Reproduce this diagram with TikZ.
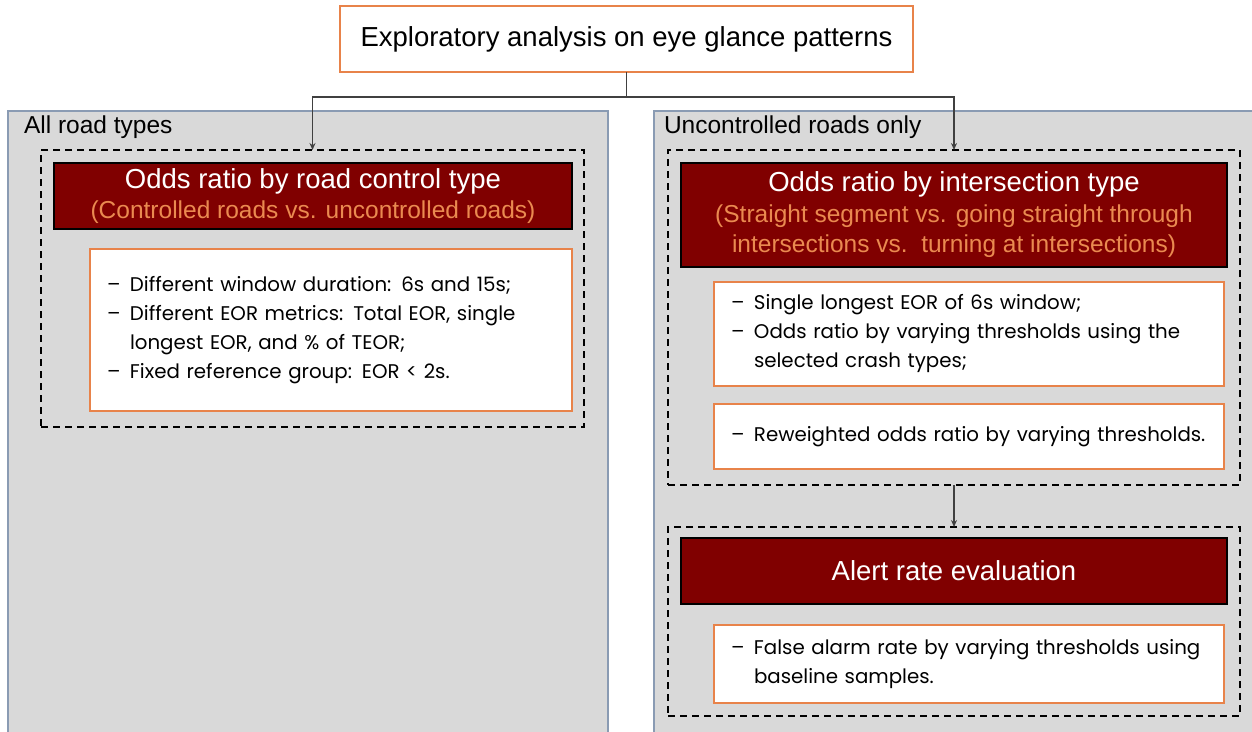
\documentclass[tikz,border=0pt]{standalone}
\usepackage{fontspec}
\setmainfont{Liberation Sans}
\newfontfamily\listfont{Poppins}
\usetikzlibrary{arrows.meta,positioning}
\definecolor{darkred}{HTML}{800000}
\definecolor{boxorange}{HTML}{E8834A}
\definecolor{subtorange}{HTML}{EA8A50}
\definecolor{panelgray}{HTML}{D9D9D9}
\definecolor{panelline}{HTML}{8A9BB3}
\definecolor{linkgray}{HTML}{404040}
\newcommand{\itm}[1]{\makebox[23pt][l]{\textendash}#1}
\newcommand{\cont}[1]{\hspace*{23pt}#1}
\newcommand{\subt}[1]{{\color{subtorange}\fontsize{24.5}{30.5}\selectfont #1}}

\begin{document}
\begin{tikzpicture}[
  x=1pt, y=-1pt, >={Stealth[length=7pt,width=6pt]},
  every node/.style={outer sep=0pt},
  panel/.style={draw=panelline,line width=1.5pt,fill=panelgray,anchor=north west,inner sep=0pt},
  group/.style={draw,line width=1.3pt,dash pattern=on 7pt off 5pt,anchor=north west,inner sep=0pt},
  head/.style={draw=black,line width=1.5pt,fill=darkred,text=white,anchor=north west,
    align=center,inner sep=0pt,font=\fontsize{27.5}{30.5}\selectfont},
  detail/.style={draw=boxorange,line width=2pt,fill=white,anchor=north west,align=left,
    inner xsep=17pt,inner ysep=0pt,font=\listfont\fontsize{19.8}{29}\selectfont},
  tag/.style={anchor=west,inner sep=0pt,font=\fontsize{24.5}{28}\selectfont},
  link/.style={draw=linkgray,line width=1.5pt}
]
\useasboundingbox (0,0) rectangle (1252,731);

% panels
\node[panel,minimum width=600pt,minimum height=640pt] (lpanel) at (8,111) {};
\node[panel,minimum width=620pt,minimum height=640pt] (rpanel) at (654,111) {};
\node[tag] (ltag) at (24,127) {All road types};
\node[tag] (rtag) at (664,127) {Uncontrolled roads only};

% top
\node[draw=boxorange,line width=2pt,fill=white,anchor=north west,minimum width=573pt,
  minimum height=66pt,font=\fontsize{27.5}{30}\selectfont] (top) at (340,6)
  {Exploratory analysis on eye glance patterns};

% left side
\node[group,minimum width=543pt,minimum height=277pt] (lgrp) at (41,150) {};
\node[head,minimum width=518pt,minimum height=66pt] (lhead) at (54,163)
  {Odds ratio by road control type\\\subt{(Controlled roads vs. uncontrolled roads)}};
\node[detail,text width=448pt,minimum height=162pt] (lbul) at (90,249)
  {\itm{Different window duration: 6s and 15s;}\\
   \itm{Different EOR metrics: Total EOR, single}\\
   \cont{longest EOR, and \% of TEOR;}\\
   \itm{Fixed reference group: EOR < 2s.}};

% right side
\node[group,minimum width=572pt,minimum height=335pt] (rgrp) at (668,150) {};
\node[head,minimum width=546pt,minimum height=104pt] (rhead) at (681,163)
  {Odds ratio by intersection type\\
   \subt{(Straight segment vs. going straight through}\\
   \subt{intersections vs.\ \ turning at intersections)}};
\node[detail,text width=476pt,minimum height=104pt] (rbul) at (714,282)
  {\itm{Single longest EOR of 6s window;}\\
   \itm{Odds ratio by varying thresholds using the}\\
   \cont{selected crash types;}};
\node[detail,text width=476pt,minimum height=65pt] (rbulw) at (714,404)
  {\itm{Reweighted odds ratio by varying thresholds.}};

\node[group,minimum width=572pt,minimum height=189pt] (agrp) at (668,527) {};
\node[head,minimum width=546pt,minimum height=66pt] (ahead) at (681,538)
  {Alert rate evaluation};
\node[detail,text width=476pt,minimum height=78pt] (abul) at (714,625)
  {\itm{False alarm rate by varying thresholds using}\\
   \cont{baseline samples.}};

% connectors
\draw[link] (top.south) -- ++(0,25) coordinate (split);
\draw[link,->] (split) -| (lgrp.north);
\draw[link,->] (split) -| (rgrp.north);
\draw[link,->] (rgrp.south) -- (agrp.north);
\end{tikzpicture}
\end{document}
